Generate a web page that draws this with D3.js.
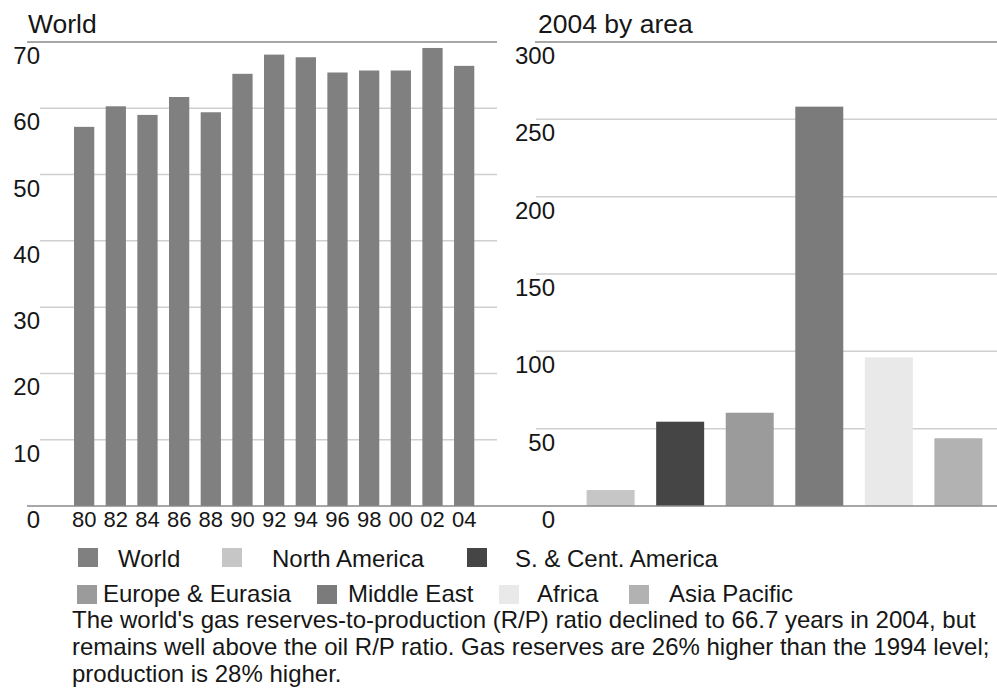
<!DOCTYPE html>
<html>
<head>
<meta charset="utf-8">
<script src="https://cdn.jsdelivr.net/npm/d3@7/dist/d3.min.js"></script>
<style>
  html, body { margin: 0; padding: 0; background: #ffffff; }
  svg { display: block; }
  text { font-family: "Liberation Sans", Arial, Helvetica, sans-serif; fill: #161616; }
</style>
</head>
<body>
<svg id="chart" width="997" height="689"></svg>
<script>
// ---------- data ----------
const years = ["80","82","84","86","88","90","92","94","96","98","00","02","04"];
const worldRP = [57.2, 60.3, 59.0, 61.7, 59.4, 65.2, 68.1, 67.7, 65.4, 65.7, 65.7, 69.1, 66.4];

const areas = ["North America","S. & Cent. America","Europe & Eurasia","Middle East","Africa","Asia Pacific"];
const areaRP = [10.3, 54.5, 60.3, 258.2, 96.1, 43.8];

const worldTicks = [0, 10, 20, 30, 40, 50, 60, 70];
const areaTicks = [0, 50, 100, 150, 200, 250, 300];

const legendNames = ["World","North America","S. & Cent. America","Europe & Eurasia","Middle East","Africa","Asia Pacific"];

const captionLines = [
  "The world's gas reserves-to-production (R/P) ratio declined to 66.7 years in 2004, but",
  "remains well above the oil R/P ratio. Gas reserves are 26% higher than the 1994 level;",
  "production is 28% higher."
];

// ---------- styles ----------
const colors = {
  "World": "#808080",
  "North America": "#c6c6c6",
  "S. & Cent. America": "#454545",
  "Europe & Eurasia": "#9b9b9b",
  "Middle East": "#7b7b7b",
  "Africa": "#e9e9e9",
  "Asia Pacific": "#b2b2b2"
};

const svg = d3.select("#chart");

// ---------- left panel: World ----------
const yL = d3.scaleLinear().domain([0, 70]).range([506, 42]);
const xL = d3.scaleBand().domain(years).range([62.6, 485.7]).paddingInner(0.36).paddingOuter(0.36);

const gL = svg.append("g");
gL.selectAll("line.grid").data(worldTicks.filter(t => t > 0 && t < 70)).join("line")
  .attr("x1", 40).attr("x2", 497)
  .attr("y1", d => yL(d)).attr("y2", d => yL(d))
  .attr("stroke", "#cfcfcf").attr("stroke-width", 1.5);
gL.append("line").attr("x1", 27).attr("x2", 497).attr("y1", yL(70)).attr("y2", yL(70))
  .attr("stroke", "#8a8a8a").attr("stroke-width", 1.5);

gL.selectAll("rect").data(worldRP).join("rect")
  .attr("x", (d, i) => xL(years[i]))
  .attr("width", xL.bandwidth())
  .attr("y", d => yL(d))
  .attr("height", d => yL(0) - yL(d))
  .attr("fill", colors["World"]);

gL.selectAll("text.ytick").data(worldTicks).join("text")
  .attr("class", "ytick")
  .attr("x", 40).attr("y", d => yL(d) + 22)
  .attr("text-anchor", "end").attr("font-size", 24)
  .text(d => d);

gL.selectAll("text.xtick").data(years).join("text")
  .attr("class", "xtick")
  .attr("x", d => xL(d) + xL.bandwidth() / 2).attr("y", 527)
  .attr("text-anchor", "middle").attr("font-size", 22)
  .text(d => d);

gL.append("text").attr("x", 28).attr("y", 33).attr("font-size", 26.5).text("World");

// ---------- right panel: 2004 by area ----------
const yR = d3.scaleLinear().domain([0, 300]).range([506, 42]);
const xR = d3.scaleBand().domain(areas).range([572, 997]).paddingInner(0.31).paddingOuter(0.21);

const gR = svg.append("g");
gR.selectAll("line.grid").data(areaTicks.filter(t => t > 0 && t < 300)).join("line")
  .attr("x1", 536).attr("x2", 997)
  .attr("y1", d => yR(d)).attr("y2", d => yR(d))
  .attr("stroke", "#cfcfcf").attr("stroke-width", 1.5);
gR.append("line").attr("x1", 535).attr("x2", 997).attr("y1", yR(300)).attr("y2", yR(300))
  .attr("stroke", "#8a8a8a").attr("stroke-width", 1.5);

gR.selectAll("rect").data(areaRP).join("rect")
  .attr("x", (d, i) => xR(areas[i]))
  .attr("width", xR.bandwidth())
  .attr("y", d => yR(d))
  .attr("height", d => yR(0) - yR(d))
  .attr("fill", (d, i) => colors[areas[i]]);

gR.selectAll("text.ytick").data(areaTicks).join("text")
  .attr("class", "ytick")
  .attr("x", 555).attr("y", d => yR(d) + 22)
  .attr("text-anchor", "end").attr("font-size", 24)
  .text(d => d);

gR.append("text").attr("x", 538).attr("y", 33).attr("font-size", 26.5).text("2004 by area");

// common baseline
svg.append("line").attr("x1", 27).attr("x2", 997).attr("y1", yL(0)).attr("y2", yL(0))
  .attr("stroke", "#8a8a8a").attr("stroke-width", 1.5);

// ---------- legend ----------
const legendLayout = [
  { sx: 78, tx: 118, row: 0 },
  { sx: 222, tx: 272, row: 0 },
  { sx: 467, tx: 515, row: 0 },
  { sx: 77, tx: 103, row: 1 },
  { sx: 317, tx: 348, row: 1 },
  { sx: 499, tx: 537, row: 1 },
  { sx: 629, tx: 669, row: 1 }
];
const rowTop = [548, 585];
const rowBase = [567, 602];
const lg = svg.append("g");
legendNames.forEach((name, i) => {
  const L = legendLayout[i];
  lg.append("rect").attr("x", L.sx).attr("y", rowTop[L.row]).attr("width", 20).attr("height", 19)
    .attr("fill", colors[name]);
  lg.append("text").attr("x", L.tx).attr("y", rowBase[L.row]).attr("font-size", 24).text(name);
});

// ---------- caption ----------
const capBase = [628, 655, 682];
svg.selectAll("text.caption").data(captionLines).join("text")
  .attr("class", "caption")
  .attr("x", 72).attr("y", (d, i) => capBase[i])
  .attr("font-size", 24)
  .text(d => d);
</script>
</body>
</html>
